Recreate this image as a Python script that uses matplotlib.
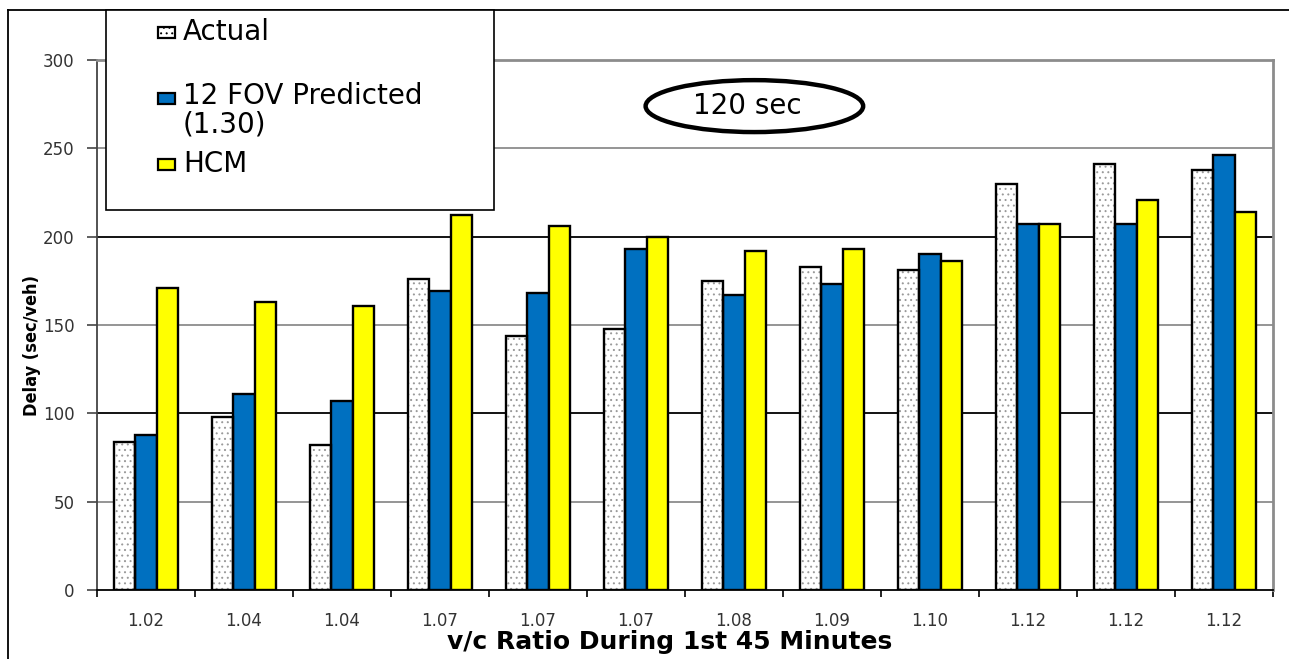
import numpy as np
import matplotlib
matplotlib.use('Agg')
from matplotlib import pyplot as plt
from matplotlib.patches import Rectangle, Ellipse
from matplotlib.lines import Line2D

# data
vc_labels = ['1.02', '1.04', '1.04', '1.07', '1.07', '1.07',
             '1.08', '1.09', '1.10', '1.12', '1.12', '1.12']
actual = [84, 98, 82, 176, 144, 148, 175, 183, 181, 230, 241, 238]
fov_pred = [88, 111, 107, 169, 168, 193, 167, 173, 190, 207, 207, 246]
hcm = [171, 163, 161, 212, 206, 200, 192, 193, 186, 207, 221, 214]
yticks = [0, 50, 100, 150, 200, 250, 300]

plt.rcParams['font.family'] = ['DejaVu Sans']
plt.rcParams['hatch.linewidth'] = 0.7

fig = plt.figure(figsize=(12.89, 6.59), dpi=100)
ax = fig.add_axes([97/1289, 1-590/659, 1176/1289, 530/659])

x = np.arange(len(vc_labels))
w = 0.22
blue = '#0070c0'
yellow = '#ffff00'

# actual: white with grey dots, then black outline on top
ax.bar(x - w, actual, w, color='white', edgecolor='#9a9a9a', hatch='...', linewidth=0, zorder=3)
ax.bar(x - w, actual, w, fill=False, edgecolor='black', linewidth=1.7, zorder=4)
ax.bar(x, fov_pred, w, color=blue, edgecolor='black', linewidth=1.7, zorder=3)
ax.bar(x + w, hcm, w, color=yellow, edgecolor='black', linewidth=1.7, zorder=3)

ax.set_xlim(-0.5, len(vc_labels) - 0.5)
ax.set_ylim(0, 300)
ax.set_yticks(yticks)
ax.set_yticklabels([str(t) for t in yticks], color='#333333', fontsize=12)
ax.tick_params(axis='y', length=7, width=1.2, color='#444444', pad=9)

ax.set_xticks(x)
ax.set_xticklabels(vc_labels, color='#333333', fontsize=12)
ax.set_xticks(np.arange(len(vc_labels) + 1) - 0.5, minor=True)
ax.tick_params(axis='x', which='major', length=0, pad=16)
ax.tick_params(axis='x', which='minor', length=5, width=1.2, color='black')

# gridlines (100 and 200 come out darker in the original)
for t in yticks[1:]:
    col = 'black' if t in (100, 200) else '#8c8c8c'
    ax.axhline(t, color=col, linewidth=1.3, zorder=1)

for s in ['top', 'right']:
    ax.spines[s].set_color('#8c8c8c')
    ax.spines[s].set_linewidth(2)
ax.spines['left'].set_color('#444444')
ax.spines['left'].set_linewidth(1.3)
ax.spines['bottom'].set_color('black')
ax.spines['bottom'].set_linewidth(1.3)

fig.text(670/1289, 1-642/659, 'v/c Ratio During 1st 45 Minutes', fontsize=18,
         fontweight='bold', ha='center', va='center')
fig.text(32/1289, 1-346/659, 'Delay (sec/veh)', rotation=90, fontsize=13, fontweight='bold',
         fontstretch='condensed', ha='center', va='center')

# 120 sec ellipse
ax.add_patch(Ellipse((0.559, 0.913), 0.185, 0.098, transform=ax.transAxes,
                     fill=False, edgecolor='black', linewidth=3.2, zorder=5))
ax.text(0.553, 0.913, '120 sec', transform=ax.transAxes, fontsize=20,
        ha='center', va='center', zorder=6)

# outer frame
fig.add_artist(Line2D([8/1289, 1], [1-10/659, 1-10/659], color='black', linewidth=1.3))
fig.add_artist(Line2D([8/1289, 8/1289], [0, 1-10/659], color='black', linewidth=1.3))

# legend box
lx0, lx1 = 106/1289, 494/1289
ly0, ly1 = 1-210/659, 1-10/659
fig.add_artist(Rectangle((lx0, ly0), lx1-lx0, ly1-ly0, transform=fig.transFigure,
                         facecolor='white', edgecolor='black', linewidth=1.2, zorder=10))
entries = [('Actual', 'white', '...', 32),
           ('12 FOV Predicted\n(1.30)', blue, None, 110),
           ('HCM', yellow, None, 164)]
for label, col, hatch, yc in entries:
    sq_y = 98 if label.startswith('12') else yc
    fig.add_artist(Rectangle((158/1289, 1-(sq_y+5.5)/659), 17/1289, 11/659,
                             transform=fig.transFigure, facecolor=col, hatch=hatch,
                             edgecolor='black', linewidth=1.6, zorder=11))
    fig.text(183/1289, 1-yc/659, label, fontsize=20, ha='left', va='center',
             linespacing=1.0, zorder=12)

fig.savefig('out.png', dpi=100)
